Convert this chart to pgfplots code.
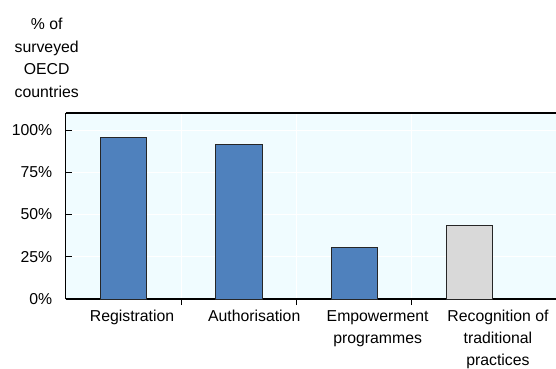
\documentclass[border=0pt]{standalone}
\usepackage{pgfplots}
\pgfplotsset{compat=1.18}
\usepackage{fontspec}
\setmainfont{Liberation Sans}
\definecolor{barblue}{HTML}{4F81BD}
\definecolor{bargray}{HTML}{D9D9D9}
\definecolor{bgcyan}{HTML}{F0FCFF}
\begin{document}
\fontsize{15.8bp}{22.5bp}\selectfont
\begin{tikzpicture}
\useasboundingbox (-65.7bp,-70bp) rectangle (490.3bp,299bp);
\begin{axis}[
  scale only axis,
  width=490.3bp, height=186bp,
  xmin=-0.5, xmax=3.75,
  ymin=0, ymax=110,
  axis background/.style={fill=bgcyan},
  axis x line*=bottom, axis y line*=left,
  x axis line style={line width=1.2pt, -},
  y axis line style={line width=0.8pt, -},
  ytick={0,25,50,75,100},
  yticklabel={\pgfmathprintnumber{\tick}\%},
  yticklabel style={xshift=-8bp},
  /pgf/number format/assume math mode=true,
  ymajorgrids, major grid style={white, line width=0.8pt},
  xtick={0.075,1.134,2.204,3.247},
  xticklabels={Registration, Authorisation, {Empowerment\\programmes}, {Recognition of\\traditional\\practices}},
  xticklabel style={align=center, font=\fontsize{15.8bp}{22bp}\selectfont},
  major x tick style={draw=none},
  minor xtick={0.5,1.5,2.5},
  xminorgrids, minor grid style={white, line width=0.8pt},
  minor x tick style={black, line width=0.8pt},
  minor tick length=6bp,
  major y tick style={black, line width=0.8pt},
  major tick length=6bp,
  tick align=inside,
  ybar, bar width=0.4, bar shift=0pt,
  clip=false,
]
\addplot[fill=barblue, draw=black!85, line width=0.6pt] coordinates {(0,95.7) (1,91.3) (2,30.4)};
\addplot[fill=bargray, draw=black!85, line width=0.6pt] coordinates {(3,43.5)};
\draw[line width=1.2pt] (rel axis cs:0,1) -- (rel axis cs:1,1);
\end{axis}
\node[align=center, anchor=north, inner sep=0pt] at (-19bp,281bp) {\% of\\surveyed\\OECD\\countries};
\end{tikzpicture}
\end{document}
